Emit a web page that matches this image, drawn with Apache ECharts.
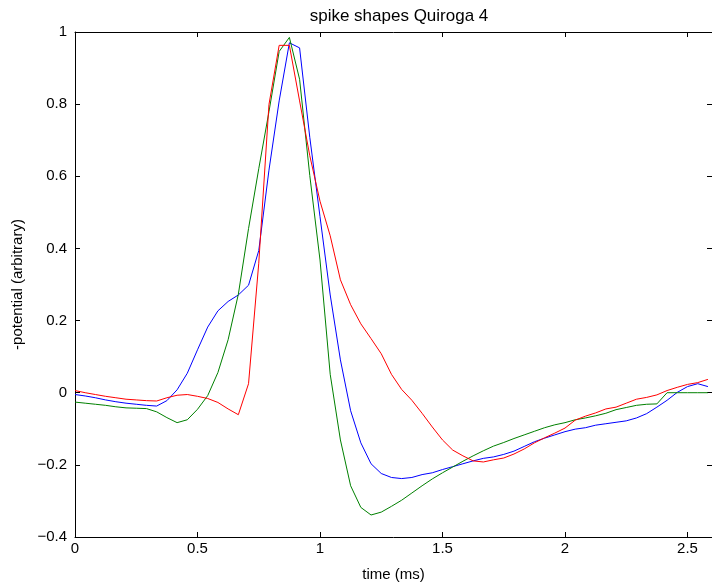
<!DOCTYPE html>
<html>
<head>
<meta charset="utf-8">
<script src="https://cdn.jsdelivr.net/npm/echarts@6/dist/echarts.min.js"></script>
<style>
html,body{margin:0;padding:0;background:#fff;}
#chart{width:712px;height:587px;}
</style>
</head>
<body>
<div id="chart"></div>
<script>
// sampling: 24 kHz -> one sample every 1/24 ms
const sampleRateKHz = 24;
const titleText = 'spike shapes Quiroga 4';
const xAxisName = 'time (ms)';
const yAxisName = '-potential (arbitrary)';
const xTicks = [0, 0.5, 1, 1.5, 2, 2.5];
const yTicks = [-0.4, -0.2, 0, 0.2, 0.4, 0.6, 0.8, 1];

const blueValues = [-0.005, -0.009, -0.014, -0.020, -0.025, -0.029, -0.032, -0.035, -0.037, -0.022,
  0.008, 0.054, 0.119, 0.182, 0.227, 0.253, 0.271, 0.298, 0.394, 0.617,
  0.809, 0.970, 0.956, 0.708, 0.488, 0.271, 0.091, -0.050, -0.139, -0.197,
  -0.224, -0.235, -0.238, -0.235, -0.227, -0.222, -0.213, -0.205, -0.197, -0.189,
  -0.182, -0.178, -0.171, -0.162, -0.149, -0.136, -0.126, -0.117, -0.108, -0.101,
  -0.097, -0.090, -0.086, -0.082, -0.078, -0.070, -0.058, -0.040, -0.021, 0.001,
  0.017, 0.025, 0.017];

const greenValues = [-0.026, -0.029, -0.032, -0.035, -0.039, -0.042, -0.043, -0.044, -0.053, -0.069,
  -0.083, -0.075, -0.046, -0.008, 0.056, 0.147, 0.273, 0.455, 0.621, 0.779,
  0.946, 0.985, 0.869, 0.602, 0.368, 0.051, -0.131, -0.258, -0.318, -0.339,
  -0.331, -0.315, -0.298, -0.278, -0.258, -0.239, -0.222, -0.206, -0.190, -0.175,
  -0.161, -0.148, -0.138, -0.127, -0.117, -0.107, -0.097, -0.089, -0.083, -0.075,
  -0.070, -0.064, -0.057, -0.047, -0.041, -0.035, -0.032, -0.031, 0.000, 0.000,
  0.000, 0.000, 0.000];

const redValues = [0.006, 0.000, -0.005, -0.010, -0.014, -0.018, -0.020, -0.022, -0.023, -0.014,
  -0.007, -0.005, -0.010, -0.016, -0.027, -0.045, -0.061, 0.025, 0.359, 0.799,
  0.963, 0.963, 0.809, 0.657, 0.531, 0.435, 0.313, 0.244, 0.191, 0.150,
  0.108, 0.051, 0.009, -0.021, -0.057, -0.095, -0.131, -0.159, -0.175, -0.189,
  -0.192, -0.186, -0.181, -0.170, -0.156, -0.139, -0.125, -0.112, -0.098, -0.076,
  -0.065, -0.056, -0.045, -0.040, -0.029, -0.018, -0.013, -0.006, 0.006, 0.015,
  0.023, 0.028, 0.037];

function toPairs(values) {
  return values.map((v, k) => [k / sampleRateKHz, v]);
}

const FONT = 'Liberation Sans, Arial, Helvetica, sans-serif';
const FS = 15;

function fmtY(v) {
  const n = parseFloat(Number(v).toFixed(1));
  return String(n).replace('-', '\u2212');
}

const chart = echarts.init(document.getElementById('chart'), null, {renderer: 'canvas'});
const axisLineStyle = {color: '#000', width: 1};
chart.setOption({
  animation: false,
  backgroundColor: '#fff',
  title: {
    text: titleText,
    left: 394,
    textAlign: 'center',
    top: 3,
    textStyle: {fontFamily: FONT, fontSize: 17, fontWeight: 'normal', color: '#000'}
  },
  grid: {left: 75, top: 32, width: 638, bottom: 46, containLabel: false},
  xAxis: [{
    type: 'value', min: 0, max: 2.6, interval: 0.5, position: 'bottom',
    name: xAxisName, nameLocation: 'middle', nameGap: 30,
    nameTextStyle: {fontFamily: FONT, fontSize: FS, color: '#000'},
    axisLine: {show: true, onZero: false, lineStyle: axisLineStyle},
    axisTick: {show: true, inside: true, length: 5, lineStyle: axisLineStyle},
    axisLabel: {show: true, showMaxLabel: false, margin: 4, fontFamily: FONT, fontSize: FS, color: '#000',
      formatter: v => xTicks.includes(parseFloat(Number(v).toFixed(1))) ? String(parseFloat(Number(v).toFixed(1))) : ''},
    splitLine: {show: false}
  }, {
    type: 'value', min: 0, max: 2.6, interval: 0.5, position: 'top',
    axisLine: {show: true, onZero: false, lineStyle: axisLineStyle},
    axisTick: {show: true, inside: true, length: 5, lineStyle: axisLineStyle},
    axisLabel: {show: false},
    splitLine: {show: false}
  }],
  yAxis: [{
    type: 'value', min: yTicks[0], max: yTicks[yTicks.length - 1], interval: 0.2, position: 'left',
    name: yAxisName, nameLocation: 'middle', nameGap: 50, nameRotate: 90,
    nameTextStyle: {fontFamily: FONT, fontSize: FS, color: '#000'},
    axisLine: {show: true, onZero: false, lineStyle: axisLineStyle},
    axisTick: {show: true, inside: true, length: 5, lineStyle: axisLineStyle},
    axisLabel: {show: true, margin: 8, fontFamily: FONT, fontSize: FS, color: '#000', formatter: fmtY},
    splitLine: {show: false}
  }, {
    type: 'value', min: yTicks[0], max: yTicks[yTicks.length - 1], interval: 0.2, position: 'right',
    axisLine: {show: true, onZero: false, lineStyle: axisLineStyle},
    axisTick: {show: true, inside: true, length: 5, lineStyle: axisLineStyle},
    axisLabel: {show: false},
    splitLine: {show: false}
  }],
  series: [
    {type: 'line', name: 'blue', data: toPairs(blueValues), showSymbol: false, lineStyle: {color: '#0000ff', width: 1}, itemStyle: {color: '#0000ff'}},
    {type: 'line', name: 'green', data: toPairs(greenValues), showSymbol: false, lineStyle: {color: '#008000', width: 1}, itemStyle: {color: '#008000'}},
    {type: 'line', name: 'red', data: toPairs(redValues), showSymbol: false, lineStyle: {color: '#ff0000', width: 1}, itemStyle: {color: '#ff0000'}}
  ]
});
</script>
</body>
</html>
